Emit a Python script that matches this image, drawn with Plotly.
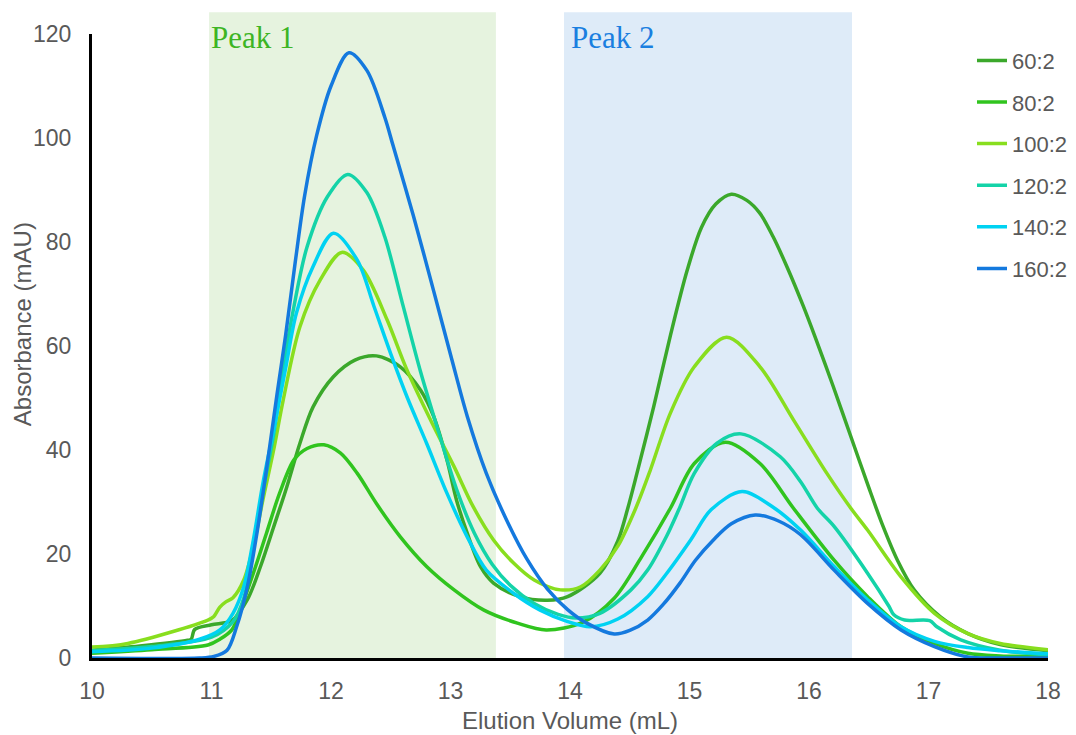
import plotly.graph_objects as go

# ---------------- data ----------------
series_names = ["60:2", "80:2", "100:2", "120:2", "140:2", "160:2"]
series_colors = ["#3BA82B", "#30C41E", "#88DE1E", "#14D3A8", "#00D2F2", "#1479DE"]

x_60 = [10.0, 10.4, 10.8, 10.83, 10.86, 11.0, 11.17, 11.3, 11.41, 11.52, 11.63, 11.74, 11.85, 12.02,
        12.2, 12.38, 12.58, 12.75, 12.86, 12.97, 13.05, 13.14, 13.25, 13.36, 13.58, 13.81, 13.98,
        14.25, 14.4, 14.48, 14.56, 14.70, 14.84, 14.98, 15.1, 15.22, 15.35, 15.48, 15.59, 15.7,
        15.82, 15.95, 16.05, 16.2, 16.35, 16.5, 16.62, 16.74, 16.88, 17.10, 17.33, 17.60, 18.0]
y_60 = [1.5, 2.3, 3.4, 3.6, 5.5, 6.4, 7.2, 11.2, 17.6, 25.2, 32.9, 41.3, 48.3, 54.1,
        57.3, 58.1, 56.0, 51.5, 46.4, 38.1, 30.4, 24.0, 17.6, 14.4, 11.8, 11.1, 11.8,
        16.3, 22.5, 28.5, 35.5, 48.3, 62.0, 74.5, 82.8, 87.3, 89.2, 88.0, 85.5, 81.0,
        75.0, 67.8, 61.8, 52.4, 42.6, 32.8, 25.3, 18.8, 13.1, 7.9, 4.7, 2.6, 1.4]

x_80 = [10.0, 10.5, 10.97, 11.07, 11.17, 11.24, 11.35, 11.46, 11.57, 11.69, 11.80, 11.94, 12.08,
        12.22, 12.38, 12.58, 12.80, 13.03, 13.28, 13.56, 13.80, 14.1, 14.37, 14.6, 14.84, 15.04,
        15.30, 15.59, 15.87, 16.21, 16.49, 16.77, 17.05, 17.33, 17.6, 18.0]
y_80 = [0.9, 1.6, 2.5, 3.6, 5.4, 9.2, 16.3, 24.0, 31.7, 38.1, 40.3, 41.0, 39.4,
        35.5, 29.7, 23.3, 17.6, 13.1, 9.2, 6.7, 5.4, 6.8, 11.5, 19.5, 28.8, 37.4,
        41.5, 37.4, 28.8, 18.8, 11.8, 6.0, 2.8, 0.9, 0.4, 0.3]

x_100 = [10.0, 10.3, 10.97, 11.02, 11.07, 11.12, 11.18, 11.27, 11.35, 11.43, 11.52, 11.60, 11.74,
         11.91, 12.09, 12.27, 12.47, 12.63, 12.86, 13.03, 13.19, 13.36, 13.53, 13.70, 13.92, 14.09,
         14.25, 14.4, 14.55, 14.67, 14.84, 15.04, 15.31, 15.59, 15.87, 16.15, 16.35, 16.49, 16.77,
         17.05, 17.33, 17.6, 18.0]
y_100 = [2.1, 2.8, 7.3, 8.0, 9.8, 10.8, 11.6, 15.0, 21.4, 30.4, 40.0, 49.6, 63.7,
         72.7, 78.0, 74.6, 65.0, 55.7, 44.5, 36.8, 29.1, 22.7, 18.2, 15.0, 13.1, 13.7,
         16.9, 21.5, 28.8, 36.0, 47.1, 56.0, 61.7, 56.0, 45.8, 35.5, 28.8, 24.6, 15.6,
         8.6, 4.7, 2.8, 1.6]

x_120 = [10.0, 10.5, 11.0, 11.18, 11.27, 11.35, 11.43, 11.52, 11.60, 11.69, 11.80, 11.97, 12.14,
         12.3, 12.45, 12.6, 12.75, 12.9, 13.05, 13.2, 13.35, 13.5, 13.7, 13.9, 14.05, 14.25, 14.51,
         14.65, 14.81, 14.91, 15.04, 15.23, 15.43, 15.76, 15.93, 16.07, 16.21, 16.49, 16.67, 16.71,
         16.80, 17.01, 17.07, 17.27, 17.6, 18.0]
y_120 = [1.4, 2.2, 4.0, 7.0, 11.5, 21.0, 32.0, 43.0, 55.7, 67.6, 79.1, 88.7, 93.0,
         89.5, 81.0, 68.0, 55.0, 43.5, 32.5, 24.0, 18.0, 14.0, 10.5, 8.4, 7.7, 8.6, 13.1,
         16.9, 23.5, 28.5, 35.5, 41.3, 43.1, 38.7, 33.9, 28.8, 25.3, 16.3, 9.9, 8.3,
         7.3, 7.2, 6.0, 3.5, 1.5, 0.6]

x_140 = [10.0, 10.5, 10.9, 11.07, 11.18, 11.27, 11.35, 11.43, 11.52, 11.62, 11.71, 11.85, 12.02,
         12.22, 12.36, 12.50, 12.64, 12.80, 12.97, 13.14, 13.30, 13.53, 13.75, 13.98, 14.17, 14.4,
         14.65, 14.81, 15.01, 15.18, 15.44, 15.7, 15.93, 16.21, 16.49, 16.77, 17.05, 17.33, 17.6, 18.0]
y_140 = [1.2, 1.9, 3.6, 5.4, 8.6, 13.7, 22.7, 33.6, 43.8, 55.7, 66.3, 75.3, 81.7,
         76.5, 67.6, 58.5, 50.0, 41.3, 31.7, 23.3, 16.9, 12.4, 9.2, 7.0, 6.0, 7.5,
         11.8, 16.3, 22.7, 28.5, 32.0, 29.0, 24.6, 17.6, 11.2, 6.0, 3.2, 2.0, 1.4, 0.8]

x_160 = [10.0, 10.9, 11.02, 11.13, 11.21, 11.30, 11.38, 11.46, 11.55, 11.62, 11.70, 11.78, 11.88,
         12.0, 12.15, 12.3, 12.45, 12.52, 12.69, 12.86, 13.01, 13.14, 13.30, 13.47, 13.64, 13.81,
         13.98, 14.14, 14.37, 14.5, 14.65, 14.78, 14.92, 15.05, 15.2, 15.35, 15.55, 15.75, 15.93,
         16.21, 16.49, 16.77, 17.05, 17.33, 17.6, 18.0]
y_160 = [0.0, 0.0, 0.3, 1.5, 6.0, 13.7, 24.0, 36.2, 51.0, 62.0, 76.0, 89.0, 100.5,
         110.0, 116.4, 113.0, 104.0, 98.5, 85.0, 70.5, 57.5, 46.5, 35.5, 26.5, 19.0, 13.3,
         9.3, 6.7, 4.6, 5.3, 7.3, 10.3, 14.4, 18.8, 22.7, 25.8, 27.5, 26.3, 23.7,
         16.9, 10.5, 5.4, 2.2, 0.2, 0.0, 0.0]

xs = [x_60, x_80, x_100, x_120, x_140, x_160]
ys = [y_60, y_80, y_100, y_120, y_140, y_160]

peak_labels = ["Peak 1", "Peak 2"]
peak_ranges = [(10.98, 13.38), (13.95, 16.36)]
peak_label_x = [10.975, 13.99]
peak_fill = ["#E6F3DF", "#DEEBF8"]
peak_text_color = ["#3DB524", "#1A7FE0"]

x_range = [10, 18]
y_range = [0, 120]

# ---------------- figure ----------------
fig = go.Figure()
for name, color, x, y in zip(series_names, series_colors, xs, ys):
    fig.add_trace(go.Scatter(
        x=x, y=y, name=name, mode="lines",
        line=dict(color=color, width=3.5, shape="spline", smoothing=0.9),
        legendgroup=name,
    ))

# shaded peak regions (in paper coords so they can extend above the axis top)
span = x_range[1] - x_range[0]
for (a, b), fc in zip(peak_ranges, peak_fill):
    fig.add_shape(type="rect", xref="paper", yref="paper",
                  x0=(a - x_range[0]) / span, x1=(b - x_range[0]) / span,
                  y0=0, y1=1.035, fillcolor=fc, line_width=0, layer="below")

for lx, lab, tc in zip(peak_label_x, peak_labels, peak_text_color):
    fig.add_annotation(x=lx, y=0.995, xref="x", yref="paper", text=lab,
                       showarrow=False, xanchor="left", yanchor="middle",
                       font=dict(family="Liberation Serif", size=31, color=tc))

# y-axis title placed as in the reference (slightly above the plot centre)
fig.add_annotation(x=-0.0732, y=0.535, xref="paper", yref="paper",
                   text="Absorbance (mAU)", textangle=-90, showarrow=False,
                   xanchor="center", yanchor="middle",
                   font=dict(size=24, color="#595959"))

fig.update_layout(
    width=1076, height=735,
    margin=dict(l=92, r=28, t=34, b=77, autoexpand=False),
    paper_bgcolor="white", plot_bgcolor="white",
    font=dict(family="Liberation Sans, Arial", size=23, color="#595959"),
    showlegend=True,
    legend=dict(x=0.9205, y=0.991, xanchor="left", yanchor="top",
                bgcolor="rgba(0,0,0,0)", font=dict(size=22, color="#595959"),
                tracegroupgap=10, itemwidth=30),
    xaxis=dict(range=x_range, dtick=1, showgrid=False, zeroline=False,
               showline=True, linecolor="black", linewidth=3, ticks="",
               ticklabelstandoff=10,
               title=dict(text="Elution Volume (mL)", standoff=10,
                          font=dict(size=24, color="#595959"))),
    yaxis=dict(range=y_range, dtick=20, showgrid=False, zeroline=False,
               showline=True, linecolor="black", linewidth=3, ticks="",
               ticklabelstandoff=13),
)

fig.write_html("out.html")
